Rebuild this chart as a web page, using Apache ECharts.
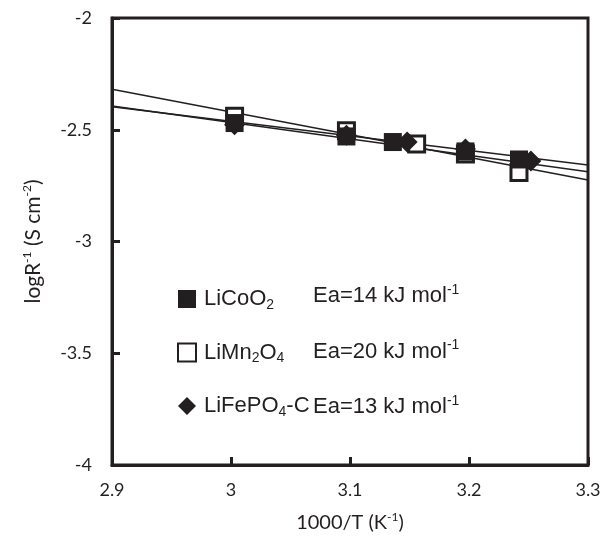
<!DOCTYPE html>
<html>
<head>
<meta charset="utf-8">
<script src="https://cdn.jsdelivr.net/npm/echarts@6/dist/echarts.min.js"></script>
<style>
  html, body { margin: 0; padding: 0; background: #fff; }
  #main { width: 610px; height: 546px; }
</style>
</head>
<body>
<div id="main"></div>
<script>
// measured points, 1000/T vs logR-1
var xCo = [3.003, 3.097, 3.136, 3.197, 3.242];
var yCo = [-2.470, -2.530, -2.555, -2.597, -2.633];
var xMn = [3.003, 3.097, 3.156, 3.197, 3.242];
var yMn = [-2.440, -2.505, -2.564, -2.608, -2.691];
var xFe = [3.003, 3.097, 3.148, 3.197, 3.252];
var yFe = [-2.478, -2.525, -2.555, -2.586, -2.640];

// trend lines, read at both ends of the axis
var lineX = [2.9, 3.3];
var lineCo = [-2.394, -2.688];
var lineMn = [-2.319, -2.725];
var lineFe = [-2.397, -2.658];

var eaText = ['Ea=14 kJ mol', 'Ea=20 kJ mol', 'Ea=13 kJ mol'];

function pairs(xs, ys) {
	var out = [];
	for (var i = 0; i < xs.length; i++) out.push([xs[i], ys[i]]);
	return out;
}

var ink = '#231f20';
var legendFont = 'Liberation Sans';
var legendRich = {
	n: { fontSize: 22, fontFamily: legendFont, color: ink, lineHeight: 26 },
	sub: { fontSize: 14, fontFamily: legendFont, color: ink, lineHeight: 14, verticalAlign: 'bottom' }
};
var legendNames = {
	'LiCoO2': '{n|LiCoO}{sub|2}',
	'LiMn2O4': '{n|LiMn}{sub|2}{n|O}{sub|4}',
	'LiFePO4-C': '{n|LiFePO}{sub|4}{n|-C}'
};
var axisNameRich = {
	sup: { fontSize: 12, fontFamily: 'Lato', color: ink, lineHeight: 12, verticalAlign: 'top' }
};

var myChart = echarts.init(document.getElementById('main'));
var option = {
	animation: false,
	backgroundColor: '#fff',
	grid: {
		left: 112, right: 22, top: 18, bottom: 81,
		show: true, borderColor: ink, borderWidth: 3
	},
	xAxis: {
		type: 'value', min: 2.9, max: 3.3, interval: 0.1,
		splitLine: { show: false },
		axisLine: { lineStyle: { color: ink, width: 3 } },
		axisTick: { inside: true, length: 8, lineStyle: { color: ink, width: 3 } },
		axisLabel: { color: ink, fontSize: 18, fontFamily: 'Lato', margin: 16 },
		name: '1000/T (K{sup|-1})',
		nameLocation: 'middle', nameGap: 46,
		nameTextStyle: { color: ink, fontSize: 20, fontFamily: 'Lato', lineHeight: 24, rich: axisNameRich }
	},
	yAxis: {
		type: 'value', min: -4, max: -2, interval: 0.5,
		splitLine: { show: false },
		axisLine: { lineStyle: { color: ink, width: 3 } },
		axisTick: { inside: true, length: 8, lineStyle: { color: ink, width: 3 } },
		axisLabel: { color: ink, fontSize: 18, fontFamily: 'Lato', margin: 20 },
		name: 'logR{sup|-1} (S cm{sup|-2})',
		nameLocation: 'middle', nameGap: 67, nameRotate: 90,
		nameTextStyle: { color: ink, fontSize: 21, fontFamily: 'Lato', lineHeight: 24, rich: axisNameRich }
	},
	legend: {
		orient: 'vertical', left: 172, top: 283,
		itemWidth: 18, itemHeight: 18, itemGap: 29.5,
		data: ['LiCoO2', 'LiMn2O4', 'LiFePO4-C'],
		formatter: function (name) { return legendNames[name]; },
		textStyle: { rich: legendRich, padding: [0, 0, 0, 3] }
	},
	graphic: eaText.map(function (t, i) {
		return {
			type: 'text', left: 313, top: 283 + i * 55.5,
			style: {
				text: '{n|' + t + '}{sup|-1}',
				rich: {
					n: { fontSize: 22, fontFamily: legendFont, fill: ink, lineHeight: 26 },
					sup: { fontSize: 14, fontFamily: legendFont, fill: ink, lineHeight: 14, verticalAlign: 'top' }
				}
			}
		};
	}),
	series: [
		{ name: 'fitCo', type: 'line', data: pairs(lineX, lineCo), symbol: 'none', lineStyle: { color: ink, width: 1.6 }, z: 1 },
		{ name: 'fitMn', type: 'line', data: pairs(lineX, lineMn), symbol: 'none', lineStyle: { color: ink, width: 1.6 }, z: 1 },
		{ name: 'fitFe', type: 'line', data: pairs(lineX, lineFe), symbol: 'none', lineStyle: { color: ink, width: 1.6 }, z: 1 },
		{
			name: 'LiMn2O4', type: 'scatter', data: pairs(xMn, yMn),
			symbol: 'rect', symbolSize: 16,
			itemStyle: { color: '#fff', borderColor: ink, borderWidth: 3, opacity: 1 }, z: 2
		},
		{
			name: 'LiCoO2', type: 'scatter', data: pairs(xCo, yCo),
			symbol: 'rect', symbolSize: 18,
			itemStyle: { color: ink, opacity: 1 }, z: 3
		},
		{
			name: 'LiFePO4-C', type: 'scatter', data: pairs(xFe, yFe),
			symbol: 'diamond', symbolSize: 21,
			itemStyle: { color: ink, opacity: 1 }, z: 4
		}
	]
};
myChart.setOption(option);
</script>
</body>
</html>
